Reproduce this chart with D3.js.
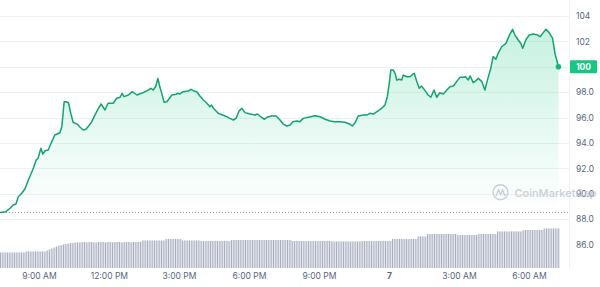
<!DOCTYPE html>
<html>
<head>
<meta charset="utf-8">
<script src="https://cdn.jsdelivr.net/npm/d3@7"></script>
<style>
  body { margin: 0; background: #fff; }
  svg { display: block; font-family: Inter, "Noto Sans", sans-serif; }
</style>
</head>
<body>
<svg id="chart" width="600" height="287"></svg>
<script>
const WIDTH = 600;
const HEIGHT = 287;
const PLOT_RIGHT = 569;
const PLOT_BOTTOM = 268;

// minutes since 07:20 AM on the 6th, and the price at that minute
const minutes = [0, 15, 26, 34, 41, 47, 56, 64, 73, 82, 86, 93, 98, 105, 110, 116, 124, 133, 141, 154,
  159, 165, 170, 176, 182, 188, 199, 206, 214, 221, 230, 236, 244, 253, 260, 270, 278, 291, 300, 309,
  314, 319, 330, 340, 352, 358, 368, 381, 388, 394, 400, 406, 411, 416, 422, 429, 442, 453, 456, 463,
  471, 484, 491, 497, 506, 514, 523, 532, 540, 544, 549, 561, 579, 591, 600, 607, 615, 622, 630, 643,
  656, 662, 670, 680, 686, 699, 710, 720, 728, 737, 746, 753, 763, 771, 780, 793, 810, 823, 836, 849,
  861, 874, 887, 898, 906, 913, 921, 934, 943, 951, 960, 973, 984, 990, 996, 1001, 1005, 1011, 1016, 1020,
  1027, 1033, 1037, 1046, 1054, 1059, 1065, 1072, 1078, 1084, 1093, 1101, 1108, 1116, 1123, 1131, 1140, 1149, 1157, 1166,
  1176, 1183, 1191, 1197, 1204, 1209, 1217, 1224, 1230, 1239, 1247, 1253, 1262, 1268, 1275, 1281, 1290, 1301, 1310, 1318,
  1324, 1331, 1339, 1344, 1353, 1361, 1371, 1380, 1389, 1397, 1404, 1412, 1421, 1427, 1436];
const prices = [88.53, 88.59, 88.86, 89.12, 89.20, 89.77, 90.04, 90.38, 91.09, 91.74, 92.03, 92.66, 92.80, 93.58, 93.13, 93.39, 93.45, 94.10, 94.63, 94.81,
  95.28, 97.25, 97.25, 97.17, 96.34, 95.63, 95.47, 95.24, 95.02, 95.08, 95.42, 95.68, 96.20, 96.73, 97.07, 96.60, 97.13, 97.13, 97.52, 97.60,
  97.91, 97.65, 97.78, 98.04, 97.78, 97.86, 97.96, 98.17, 98.31, 98.17, 98.43, 99.09, 98.43, 97.91, 97.20, 97.25, 97.78, 97.83, 97.91, 97.86,
  98.04, 98.09, 98.23, 98.12, 98.04, 97.70, 97.39, 97.13, 96.86, 96.99, 96.73, 96.34, 96.13, 95.94, 95.81, 95.94, 96.54, 96.73, 96.39, 96.28,
  96.20, 96.28, 96.07, 95.87, 96.02, 96.13, 96.13, 95.81, 95.50, 95.34, 95.42, 95.68, 95.73, 95.68, 95.94, 96.02, 96.15, 96.07, 95.87, 95.73,
  95.68, 95.68, 95.63, 95.50, 95.34, 95.60, 96.13, 96.20, 96.20, 96.34, 96.28, 96.54, 96.81, 96.99, 97.65, 98.70, 99.75, 99.75, 99.49, 98.96,
  99.02, 98.96, 99.35, 99.22, 99.22, 99.35, 99.49, 98.83, 98.31, 98.49, 98.12, 97.78, 97.60, 98.17, 97.60, 97.96, 97.86, 98.17, 98.43, 98.49,
  98.91, 99.17, 99.17, 99.22, 98.96, 99.28, 98.75, 98.91, 99.09, 98.83, 98.17, 98.91, 99.88, 100.80, 100.59, 101.06, 101.58, 101.85, 102.50, 102.95,
  102.50, 102.17, 101.85, 101.46, 102.17, 102.50, 102.58, 102.53, 102.37, 102.69, 102.95, 102.69, 102.24, 101.06, 100.00];

// volume per 6-minute bar
const volumes = [
  15.5, 15.5, 15.5, 15.5, 15.5, 15.5, 15.5, 15.5, 15.5, 15.5, 15.5,
  16.5, 16.5, 16.5, 16.5, 16.5, 16.5, 16.5, 16.5, 16.5,
  17.5, 18.5, 19.5, 20.5, 21.5, 22.5,
  23, 23.5, 24, 24.5, 25, 25, 25.5,
  25.5, 25.5, 26, 26, 25.5, 26, 26, 25.5, 25.5, 26, 26, 26, 25.5, 26, 26, 25.5, 26, 26, 26, 25.5, 26, 26, 26, 25.5, 26, 26, 26, 26,
  27.5, 27.5, 27.5, 27.5, 27.5, 27.5, 27.5, 27.5, 27.5, 27.5,
  29, 29, 29, 29, 29, 29, 29,
  27.5, 27.5, 27.5, 27.5, 27.5, 27.5, 27.5, 27.5,
  27, 27, 27, 27, 27, 27, 27, 27, 27, 27, 27, 27, 27,
  28, 28, 28, 28, 28, 28, 28, 28, 28, 28, 28, 28, 28, 28, 28, 28, 28, 28, 28, 28, 28, 28, 28, 28, 28, 28,
  27, 27, 27, 27, 27, 27, 27, 27, 27, 27, 27, 27, 27, 27, 27, 27, 27,
  26.5, 26.5, 26.5, 26.5, 26.5, 26.5, 26.5, 26.5, 26.5, 26.5, 26.5, 26.5, 26.5,
  27, 27, 27, 27, 27, 27, 27, 27, 27, 27, 27, 27, 27,
  29, 29, 29, 29, 29, 29, 29, 29, 29, 29, 29,
  31.5, 31.5, 31.5, 31.5,
  34, 34, 34, 34, 34, 34, 34, 34, 34, 34, 34, 34, 34,
  33, 33, 33, 33, 33, 33, 33, 33, 33,
  34, 34, 34, 34, 34, 34, 34, 34,
  36.5, 36.5, 36.5, 36.5, 36.5, 36.5, 36.5, 36.5, 36.5, 36.5, 36.5,
  38, 38, 38, 38, 38, 38, 38, 38, 38,
  39.5, 39.5, 39.5, 39.5, 39.5, 39.5, 39.5];
const BAR_MINUTES = 6;

const priceTicks = [88, 90, 92, 94, 96, 98, 100, 102, 104];
const timeTicks = [
  new Date(2024, 0, 6, 9), new Date(2024, 0, 6, 12), new Date(2024, 0, 6, 15),
  new Date(2024, 0, 6, 18), new Date(2024, 0, 6, 21), new Date(2024, 0, 7, 0),
  new Date(2024, 0, 7, 3), new Date(2024, 0, 7, 6),
];
const start = new Date(2024, 0, 6, 7, 20);
const lastPrice = prices[prices.length - 1];

const toDate = (m) => new Date(start.getTime() + m * 60000);
const points = minutes.map((m, i) => ({ t: toDate(m), p: prices[i] }));

const x = d3.scaleTime().domain([start, toDate(1440)]).range([0, 560]);
const y = d3.scaleLinear().domain([86, 104]).range([244.6, 16]);
const yVol = d3.scaleLinear().domain([0, 40]).range([PLOT_BOTTOM, PLOT_BOTTOM - 40]);

const svg = d3.select('#chart');

const defs = svg.append('defs');
const grad = defs.append('linearGradient')
  .attr('id', 'area-fill')
  .attr('gradientUnits', 'userSpaceOnUse')
  .attr('x1', 0).attr('x2', 0)
  .attr('y1', y(103)).attr('y2', y(prices[0]));
grad.append('stop').attr('offset', 0).attr('stop-color', '#16c784').attr('stop-opacity', 0.24);
grad.append('stop').attr('offset', 0.75).attr('stop-color', '#16c784').attr('stop-opacity', 0.06);
grad.append('stop').attr('offset', 1).attr('stop-color', '#16c784').attr('stop-opacity', 0);

// grid
svg.append('g')
  .selectAll('line')
  .data(priceTicks)
  .join('line')
  .attr('x1', 0).attr('x2', PLOT_RIGHT)
  .attr('y1', (d) => Math.round(y(d)) + 0.5)
  .attr('y2', (d) => Math.round(y(d)) + 0.5)
  .style('stroke', '#eff2f5');

svg.append('line')
  .attr('x1', PLOT_RIGHT + 0.5).attr('x2', PLOT_RIGHT + 0.5)
  .attr('y1', 0).attr('y2', PLOT_BOTTOM)
  .style('stroke', '#eff2f5');

// volume bars
const step = x(toDate(BAR_MINUTES)) - x(toDate(0));
const bars = svg.append('g').selectAll('g').data(volumes).join('g');
bars.append('rect')
  .attr('x', (d, i) => x(toDate(i * BAR_MINUTES)))
  .attr('y', (d) => yVol(d))
  .attr('width', step)
  .attr('height', (d) => PLOT_BOTTOM - yVol(d))
  .style('fill', '#e3e6ee');
bars.append('rect')
  .attr('x', (d, i) => x(toDate(i * BAR_MINUTES)))
  .attr('y', (d) => yVol(d))
  .attr('width', 1)
  .attr('height', (d) => PLOT_BOTTOM - yVol(d))
  .style('fill', '#a9afbd');

// price area + line
const area = d3.area()
  .x((d) => x(d.t))
  .y0(y(prices[0]))
  .y1((d) => y(d.p));
svg.append('path')
  .datum(points)
  .attr('d', area)
  .style('fill', 'url(#area-fill)');

svg.append('line')
  .attr('x1', 0).attr('x2', PLOT_RIGHT)
  .attr('y1', y(prices[0])).attr('y2', y(prices[0]))
  .style('stroke', '#8f96a3')
  .style('stroke-width', 1)
  .style('stroke-dasharray', '1,2');

const line = d3.line().x((d) => x(d.t)).y((d) => y(d.p));
svg.append('path')
  .datum(points)
  .attr('d', line)
  .style('fill', 'none')
  .style('stroke', '#13a36c')
  .style('stroke-width', 1.5)
  .style('stroke-linejoin', 'round');

svg.append('circle')
  .attr('cx', x(points[points.length - 1].t))
  .attr('cy', y(lastPrice))
  .attr('r', 2.8)
  .style('fill', '#16b87a');

// axes
const fmtPrice = d3.format('.3r');
const yAxis = d3.axisRight(y)
  .tickValues(priceTicks.filter((d) => d !== lastPrice).concat([86]))
  .tickSize(0)
  .tickPadding(0)
  .tickFormat(fmtPrice);
svg.append('g')
  .attr('transform', 'translate(576,0)')
  .call(yAxis)
  .call((g) => g.select('.domain').remove())
  .selectAll('text')
  .style('font-family', 'Inter, sans-serif')
  .style('font-size', '8.5px')
  .style('fill', '#58667e');

const fmtTime = d3.timeFormat('%-I:%M %p');
const xAxis = d3.axisBottom(x)
  .tickValues(timeTicks)
  .tickSize(0)
  .tickPadding(0)
  .tickFormat((d) => (d.getHours() === 0 ? d3.timeFormat('%-d')(d) : fmtTime(d)));
svg.append('g')
  .attr('transform', 'translate(0,273)')
  .call(xAxis)
  .call((g) => g.select('.domain').remove())
  .selectAll('text')
  .style('font-family', 'Inter, sans-serif')
  .style('font-size', '8.5px')
  .style('fill', '#58667e')
  .style('font-weight', (d) => (d.getHours() === 0 ? 700 : 400));

// current price badge
const badge = svg.append('g').attr('transform', `translate(570,${y(lastPrice)})`);
badge.append('rect')
  .attr('x', 0).attr('y', -6.5)
  .attr('width', 27).attr('height', 13)
  .attr('rx', 1)
  .style('fill', '#16c784');
badge.append('text')
  .attr('x', 13.5).attr('y', 0)
  .attr('dy', '0.35em')
  .attr('text-anchor', 'middle')
  .style('font-size', '8.5px')
  .style('font-weight', 700)
  .style('fill', '#fff')
  .text(fmtPrice(lastPrice));

// watermark
const mark = svg.append('g').style('opacity', 0.85);
mark.append('circle')
  .attr('cx', 500.5).attr('cy', 192.3).attr('r', 7.5)
  .style('fill', 'none')
  .style('stroke', '#c3c8d0')
  .style('stroke-width', 1.4);
mark.append('path')
  .attr('d', 'M496,196 L498.5,189.5 L500.5,195 L502.5,189.5 L504.5,195.5 L506,194')
  .style('fill', 'none')
  .style('stroke', '#c3c8d0')
  .style('stroke-width', 1.3)
  .style('stroke-linejoin', 'round');
mark.append('text')
  .attr('x', 514.5).attr('y', 196.5)
  .style('font-size', '11px')
  .style('font-weight', 500)
  .style('fill', '#c3c8d0')
  .text('CoinMarketCap');
</script>
</body>
</html>
